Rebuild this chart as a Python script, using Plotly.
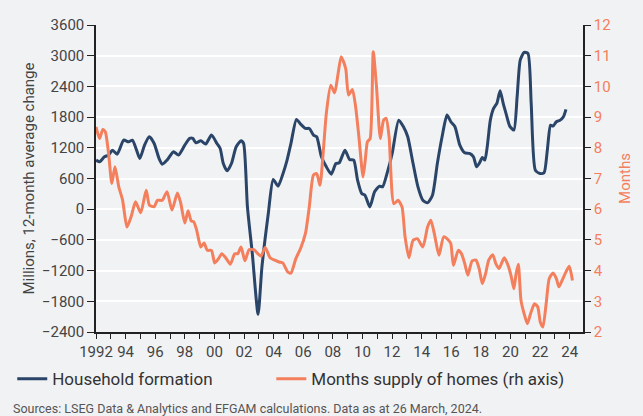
import plotly.graph_objects as go

# Household formation (millions, 12-month average change)
hh_years = [
    1992.0, 1992.24, 1992.57, 1992.85, 1993.1, 1993.43, 1993.87, 1994.2, 1994.46,
    1994.74, 1994.96, 1995.28, 1995.6, 1995.93, 1996.26, 1996.48, 1996.8, 1997.24,
    1997.57, 1998.0, 1998.33, 1998.54, 1998.75, 1999.08, 1999.41, 1999.8, 2000.17,
    2000.39, 2000.6, 2000.86, 2001.15, 2001.47, 2001.8, 2001.97, 2002.23, 2002.56,
    2002.95, 2003.21, 2003.64, 2003.97, 2004.3, 2004.62, 2004.9, 2005.17, 2005.54,
    2005.82, 2006.15, 2006.41, 2006.69, 2006.91, 2007.23, 2007.56, 2007.89, 2008.21,
    2008.43, 2008.82, 2009.13, 2009.41, 2009.67, 2009.95, 2010.17, 2010.5, 2010.82,
    2011.15, 2011.36, 2011.69, 2012.01, 2012.45, 2012.77, 2013.06, 2013.42, 2013.75,
    2014.08, 2014.4, 2014.73, 2015.06, 2015.38, 2015.71, 2015.97, 2016.25, 2016.58,
    2016.91, 2017.23, 2017.5, 2017.71, 2017.9, 2018.1, 2018.27, 2018.43, 2018.64,
    2018.86, 2019.08, 2019.3, 2019.51, 2019.73, 2019.95, 2020.23, 2020.45, 2020.66,
    2020.92, 2021.18, 2021.4, 2021.68, 2022.0, 2022.27, 2022.49, 2022.71, 2022.88,
    2023.1, 2023.36, 2023.58, 2023.75,
]
hh_values = [
    959, 926, 1024, 1057, 1154, 1076, 1350, 1317, 1350,
    1154, 991, 1252, 1415, 1285, 991, 880, 959, 1122,
    1057, 1252, 1383, 1383, 1298, 1337, 1272, 1448, 1285,
    1187, 893, 750, 893, 1220, 1337, 1285, 45, -868,
    -2055, -1129, -85, 580, 450, 685, 950, 1285, 1754,
    1663, 1578, 1578, 1448, 1415, 1024, 828, 685, 893,
    906, 1154, 972, 959, 567, 306, 274, 45, 339,
    450, 437, 730, 1089, 1741, 1611, 1415, 893, 437,
    176, 124, 274, 893, 1415, 1839, 1709, 1611, 1252,
    1102, 1089, 1024, 828, 900, 1011, 959, 1220, 1741,
    1970, 2067, 2315, 2067, 1839, 1624, 1546, 2198, 2915,
    3065, 3045, 2067, 763, 698, 711, 1154, 1643, 1624,
    1709, 1741, 1806, 1950,
]

# Months supply of homes (rh axis)
ms_years = [
    1992.0, 1992.24, 1992.46, 1992.63, 1992.85, 1993.07, 1993.28, 1993.54, 1993.8,
    1994.09, 1994.37, 1994.67, 1995.02, 1995.39, 1995.61, 1995.93, 1996.15, 1996.48,
    1996.8, 1997.13, 1997.5, 1997.72, 1998.0, 1998.22, 1998.43, 1998.6, 1998.8,
    1999.08, 1999.3, 1999.52, 1999.8, 2000.02, 2000.28, 2000.5, 2000.76, 2001.08,
    2001.37, 2001.58, 2001.8, 2002.06, 2002.34, 2002.67, 2002.93, 2003.15, 2003.43,
    2003.76, 2004.08, 2004.37, 2004.62, 2004.95, 2005.17, 2005.5, 2005.82, 2006.15,
    2006.41, 2006.69, 2006.91, 2007.13, 2007.36, 2007.56, 2007.86, 2008.12, 2008.34,
    2008.56, 2008.73, 2008.88, 2009.06, 2009.32, 2009.54, 2009.76, 2010.04, 2010.19,
    2010.34, 2010.52, 2010.73, 2010.95, 2011.21, 2011.43, 2011.6, 2011.8, 2012.12,
    2012.41, 2012.67, 2012.88, 2013.14, 2013.42, 2013.71, 2014.08, 2014.4, 2014.62,
    2014.88, 2015.17, 2015.49, 2015.82, 2015.97, 2016.15, 2016.47, 2016.69, 2016.91,
    2017.12, 2017.41, 2017.67, 2017.88, 2018.1, 2018.32, 2018.53, 2018.8, 2019.01,
    2019.23, 2019.58, 2019.84, 2020.06, 2020.23, 2020.38, 2020.53, 2020.71, 2020.92,
    2021.14, 2021.36, 2021.62, 2021.84, 2022.01, 2022.19, 2022.41, 2022.62, 2022.88,
    2023.1, 2023.27, 2023.49, 2023.75, 2023.97, 2024.19,
]
ms_values = [
    8.68, 8.30, 8.60, 8.52, 7.82, 6.84, 7.38, 6.73, 6.29,
    5.42, 5.75, 6.24, 5.88, 6.62, 6.13, 6.08, 6.29, 6.29,
    6.57, 5.97, 6.53, 6.21, 5.55, 5.95, 5.62, 5.59, 5.32,
    4.77, 4.90, 4.66, 4.66, 4.25, 4.39, 4.55, 4.42, 4.21,
    4.55, 4.55, 4.77, 4.32, 4.68, 4.68, 4.55, 4.47, 4.75,
    4.42, 4.34, 4.28, 4.25, 3.96, 3.92, 4.39, 4.72, 5.21,
    6.08, 7.11, 7.16, 6.78, 7.92, 9.12, 10.04, 9.79, 10.37,
    10.97, 10.80, 10.55, 9.72, 9.90, 9.34, 8.36, 7.05, 7.60,
    8.20, 8.30, 11.13, 9.99, 8.30, 8.90, 8.96, 8.36, 6.18,
    6.29, 6.08, 5.10, 4.42, 4.99, 5.04, 4.77, 5.42, 5.64,
    5.15, 4.50, 5.10, 4.99, 4.88, 4.17, 4.66, 4.55, 4.23,
    3.85, 4.32, 4.34, 4.07, 3.58, 3.90, 4.34, 4.52, 4.23,
    4.07, 4.42, 4.17, 3.79, 3.41, 3.90, 4.21, 3.03, 2.60,
    2.27, 2.60, 2.92, 2.82, 2.33, 2.16, 2.92, 3.74, 3.92,
    3.74, 3.47, 3.68, 3.96, 4.14, 3.68,
]

x_tickvals = list(range(1992, 2025))
x_ticktext = ["1992" if y == 1992 else (f"{y % 100:02d}" if y % 2 == 0 else "") for y in x_tickvals]

BLUE = "#2b4569"
ORANGE = "#f47f5c"
TEXT = "#444444"
BG = "#f1f2f4"
FONT = "Roboto"

fig = go.Figure()
fig.add_trace(go.Scatter(
    x=hh_years, y=hh_values, name="Household formation", mode="lines",
    line=dict(color=BLUE, width=3, shape="spline", smoothing=0.6),
    legend="legend",
))
fig.add_trace(go.Scatter(
    x=ms_years, y=ms_values, name="Months supply of homes (rh axis)", mode="lines",
    line=dict(color=ORANGE, width=3, shape="spline", smoothing=0.6), yaxis="y2",
    legend="legend2",
))

legend_style = dict(
    orientation="h", xanchor="left", y=-0.095, yanchor="top",
    font=dict(size=17, color="#333"), bgcolor="rgba(0,0,0,0)",
)

fig.update_layout(
    width=643, height=416,
    margin=dict(l=93, r=46, t=25, b=84),
    paper_bgcolor=BG, plot_bgcolor=BG,
    font=dict(family=FONT, size=15, color=TEXT),
    xaxis=dict(
        range=[1992, 2024.9], tickvals=x_tickvals, ticktext=x_ticktext,
        ticks="outside", ticklen=5, tickcolor="#222", showline=True,
        linecolor="#222", linewidth=1.5, showgrid=False, zeroline=False,
        tickfont=dict(size=15, color=TEXT),
    ),
    yaxis=dict(
        range=[-2400, 3600], dtick=600, ticks="outside", ticklen=7,
        tickcolor="#222", showline=True, linecolor="#222", linewidth=1.5,
        gridcolor="white", gridwidth=1.5, zeroline=False,
        title=dict(text="Millions, 12-month average change", font=dict(size=15, color=TEXT), standoff=4),
        tickfont=dict(size=15, color=TEXT),
    ),
    yaxis2=dict(
        range=[2, 12], dtick=1, overlaying="y", side="right", ticks="outside",
        ticklen=6, tickcolor="#222", showline=True, linecolor="#222", linewidth=1.5,
        showgrid=False, zeroline=False,
        title=dict(text="Months", font=dict(size=15, color=ORANGE), standoff=10),
        tickfont=dict(size=15, color=ORANGE),
    ),
    showlegend=True,
    legend=dict(x=-0.172, **legend_style),
    legend2=dict(x=0.36, **legend_style),
)

fig.add_annotation(
    text="Sources: LSEG Data & Analytics and EFGAM calculations. Data as at 26 March, 2024.",
    xref="paper", yref="paper", x=-0.175, y=-0.2476, xanchor="left", yanchor="middle",
    showarrow=False, font=dict(size=12.5, color="#555"),
)

fig.write_html(
    "out.html",
    config={"displayModeBar": False},
    post_script="document.body.style.margin='0';",
)
